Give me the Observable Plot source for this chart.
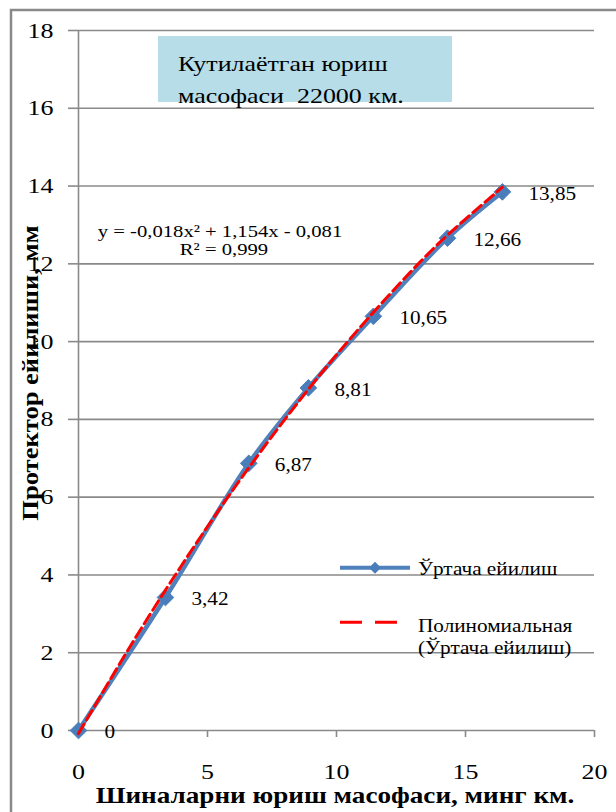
<!DOCTYPE html>
<html><head><meta charset="utf-8">
<script src="https://cdn.jsdelivr.net/npm/d3@7"></script>
<script src="https://cdn.jsdelivr.net/npm/@observablehq/plot@0.6"></script>
<style>
html,body{margin:0;padding:0;background:#fff;}
#wrap{position:relative;width:616px;height:812px;overflow:hidden;background:#fff;}
#wrap > svg{position:absolute;left:0;top:0;}
</style></head><body><div id="wrap"></div>
<script>
// ---- data ----
const distance = [0, 3.37, 6.6, 8.91, 11.43, 14.3, 16.43];          // thousand km
const wear = [0, 3.42, 6.87, 8.81, 10.65, 12.66, 13.85];             // mm
const wearLabels = ["0", "3,42", "6,87", "8,81", "10,65", "12,66", "13,85"];
const trendDistance = [0, 2, 4, 6, 8, 10, 12, 14, 16.43];
const trendWear = [-0.08, 2.16, 4.25, 6.20, 8.00, 9.66, 11.17, 12.55, 13.97];
const xTicks = [0, 5, 10, 15, 20];
const yTicks = [0, 2, 4, 6, 8, 10, 12, 14, 16, 18];
const seriesName = "Ўртача ейилиш";
const trendName = ["Полиномиальная", "(Ўртача ейилиш)"];
const boxText = ["Кутилаётган юриш", "масофаси  22000 км."];
const equation = ["y = -0,018x² + 1,154x - 0,081", "R² = 0,999"];
const xTitle = "Шиналарни юриш масофаси, минг км.";
const yTitle = "Протектор ейилиши, мм";

const FONT = "Liberation Serif, Times New Roman, serif";
const STRETCH = 1.18;
const grid = "#8a8a8a";

const points = distance.map((d, i) => ({x: d, y: wear[i], label: wearLabels[i]}));
const trend = trendDistance.map((d, i) => ({x: d, y: trendWear[i]}));

const chart = Plot.plot({
  width: 616, height: 812,
  marginLeft: 78, marginRight: 22, marginTop: 30, marginBottom: 82,
  style: {fontFamily: FONT, fontSize: "22px", color: "#000", background: "transparent", overflow: "visible"},
  x: {domain: [0, 20]},
  y: {domain: [0, 18]},
  marks: [
    Plot.ruleY(yTicks, {stroke: grid, strokeWidth: 1.6}),
    Plot.ruleX([0], {stroke: grid, strokeWidth: 1.6}),
    Plot.axisY({ticks: yTicks, tickSize: 10, tickPadding: 15, stroke: grid, strokeWidth: 1.6, fill: "#000", label: null, tickFormat: d => String(d)}),
    Plot.axisX({ticks: xTicks, tickSize: 7, tickPadding: 25.5, stroke: grid, strokeWidth: 1.6, fill: "#000", label: null, tickFormat: d => String(d)}),
    Plot.line(points, {x: "x", y: "y", stroke: "#4f81bd", strokeWidth: 4.5, curve: "catmull-rom"}),
    Plot.dot(points, {x: "x", y: "y", symbol: "diamond2", r: 7.5, fill: "#4a7ebb", stroke: "#4a7ebb", strokeWidth: 1}),
    Plot.line(trend, {x: "x", y: "y", stroke: "#ff0000", strokeWidth: 3, strokeDasharray: "11,5", curve: "catmull-rom"}),
    Plot.text(points, {x: "x", y: "y", text: "label", dx: 26, dy: 2, textAnchor: "start", fontSize: 18})
  ]
});
document.getElementById("wrap").appendChild(chart);
// widen glyphs along their baseline like the original rendering
d3.select(chart).selectAll("text").each(function () {
  const t = this.getAttribute("transform");
  if (t) this.setAttribute("transform", t + ` scale(${STRETCH},1)`);
});

// ---- overlay: frame, note box, equation, legend, axis titles ----
const ov = d3.select("#wrap").append("svg")
  .attr("width", 616).attr("height", 812)
  .style("font-family", FONT);

ov.append("path").attr("d", "M11,812V10H616")
  .attr("fill", "none").attr("stroke", "#898989").attr("stroke-width", 2.5);

function label(x, y, str, size, anchor, weight, rotate) {
  ov.append("text")
    .attr("transform", `translate(${x},${y})${rotate ? ` rotate(${rotate})` : ""} scale(${STRETCH},1)`)
    .attr("text-anchor", anchor || "start")
    .attr("font-size", size)
    .attr("font-weight", weight || "normal")
    .attr("fill", "#000")
    .style("white-space", "pre")
    .text(str);
}

ov.append("rect").attr("x", 158).attr("y", 36).attr("width", 294).attr("height", 66).attr("fill", "#b7dde8");
label(178, 70.7, boxText[0], 22);
label(178, 102.5, boxText[1], 22);

label(220, 236.7, equation[0], 17.5, "middle");
label(224, 255, equation[1], 17.5, "middle");

ov.append("path").attr("d", "M340,567.7H410").attr("stroke", "#4f81bd").attr("stroke-width", 4);
ov.append("path").attr("d", "M375,561.7L381,567.7L375,573.7L369,567.7Z").attr("fill", "#4a7ebb");
label(418, 575, seriesName, 18);
ov.append("path").attr("d", "M340,622.3H400").attr("stroke", "#ff0000").attr("stroke-width", 3).attr("stroke-dasharray", "22,13");
label(418, 631.7, trendName[0], 18);
label(418, 654, trendName[1], 18);

label(335, 803, xTitle, 23, "middle", "bold");
label(37.5, 373, yTitle, 22.5, "middle", "bold", -90);
</script>
</body></html>
